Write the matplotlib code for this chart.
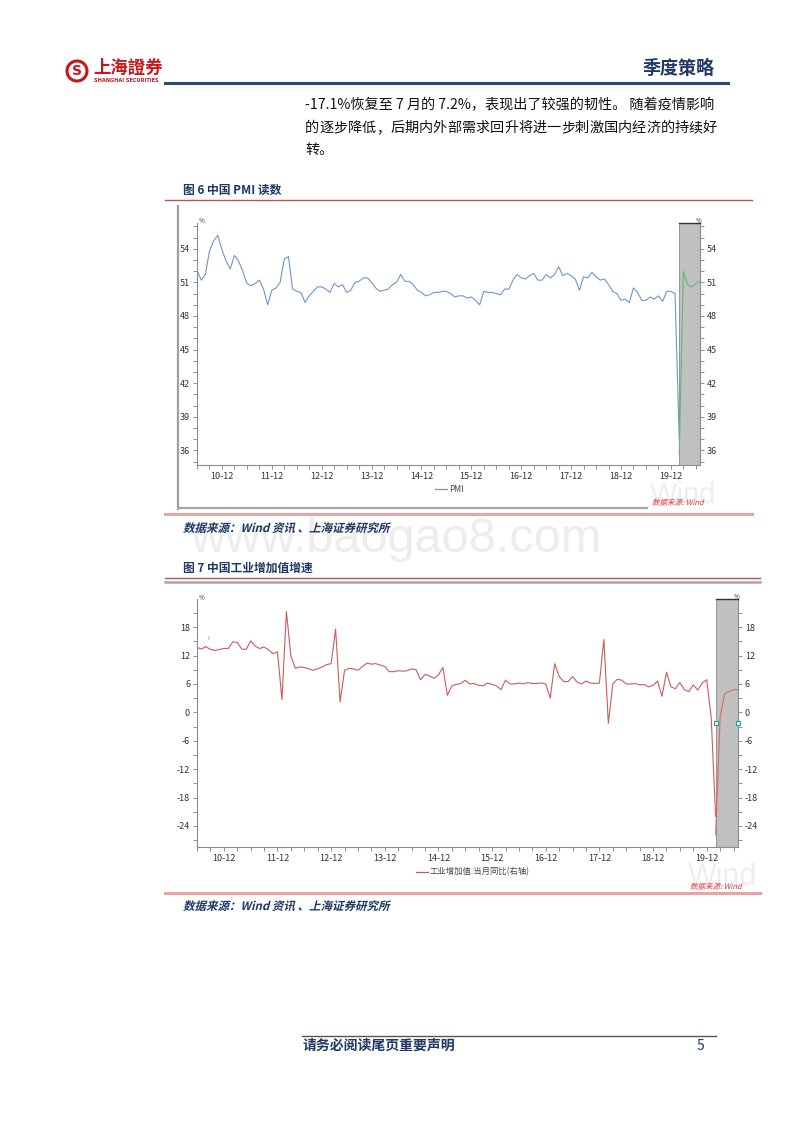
import numpy as np
import matplotlib
matplotlib.use('Agg')
import matplotlib.pyplot as plt
from matplotlib.lines import Line2D
from matplotlib.patches import Circle, PathPatch
from matplotlib.textpath import TextPath
from matplotlib.font_manager import FontProperties
from matplotlib.transforms import Affine2D, IdentityTransform

plt.rcParams['font.family'] = ['Noto Sans CJK SC', 'DejaVu Sans']
plt.rcParams['axes.unicode_minus'] = False

W, H = 800, 1132
NAVY = '#1F3864'

# 月份序号: 0 = 2010-06 ... 121 = 2020-07
tick_labels = ['10-12', '11-12', '12-12', '13-12', '14-12',
               '15-12', '16-12', '17-12', '18-12', '19-12']
tick_pos = [6 + 12 * k for k in range(10)]

# 图6 PMI (2010-06 ~ 2020-02)
pmi = [52.1, 51.2, 51.7, 53.8, 54.7, 55.2, 53.9,
       52.9, 52.2, 53.4, 52.9, 52.0, 50.9, 50.7, 50.9, 51.2, 50.4, 49.0, 50.3,
       50.5, 51.0, 53.1, 53.3, 50.4, 50.2, 50.1, 49.2, 49.8, 50.2, 50.6, 50.6,
       50.4, 50.1, 50.9, 50.6, 50.8, 50.1, 50.3, 51.0, 51.1, 51.4, 51.4, 51.0,
       50.5, 50.2, 50.3, 50.4, 50.8, 51.0, 51.7, 51.1, 51.1, 50.8, 50.3, 50.1,
       49.8, 49.9, 50.1, 50.1, 50.2, 50.2, 50.0, 49.7, 49.8, 49.8, 49.6, 49.7,
       49.4, 49.0, 50.2, 50.1, 50.1, 50.0, 49.9, 50.4, 50.4, 51.2, 51.7, 51.4,
       51.3, 51.6, 51.8, 51.2, 51.2, 51.7, 51.4, 51.7, 52.4, 51.6, 51.8, 51.6,
       51.3, 50.3, 51.5, 51.4, 51.9, 51.5, 51.2, 51.3, 50.8, 50.2, 50.0, 49.4,
       49.5, 49.2, 50.5, 50.1, 49.4, 49.4, 49.7, 49.5, 49.8, 49.3, 50.2, 50.2,
       50.0, 37.0]
# 阴影区 2020-02 ~ 2020-07
pmi_band = [35.7, 52.0, 50.8, 50.6, 50.9, 51.1]

# 图7 工业增加值:当月同比 (2010-06 ~ 2020-02)
iva = [13.7, 13.4, 13.9, 13.3, 13.1, 13.3, 13.5,
       13.5, 14.9, 14.8, 13.4, 13.3, 15.1, 14.0, 13.5, 13.8, 13.2, 12.4, 12.8,
       2.7, 21.3, 11.9, 9.3, 9.6, 9.5, 9.2, 8.9, 9.2, 9.6, 10.1, 10.3,
       17.6, 2.2, 8.9, 9.3, 9.2, 8.9, 9.7, 10.4, 10.2, 10.3, 10.0, 9.7,
       8.6, 8.6, 8.8, 8.7, 8.8, 9.2, 9.0, 6.9, 8.0, 7.7, 7.2, 7.9,
       9.5, 3.6, 5.6, 5.9, 6.1, 6.8, 6.0, 6.1, 5.7, 5.6, 6.2, 5.9,
       5.6, 4.8, 6.8, 6.0, 6.0, 6.2, 6.0, 6.3, 6.1, 6.1, 6.2, 6.0,
       3.0, 10.3, 7.6, 6.5, 6.5, 7.6, 6.4, 6.0, 6.6, 6.2, 6.1, 6.2,
       15.4, -2.3, 6.0, 7.0, 6.8, 6.0, 6.0, 6.1, 5.8, 5.9, 5.4, 5.7,
       6.6, 3.4, 8.5, 5.4, 5.0, 6.3, 4.8, 4.4, 5.8, 4.7, 6.2, 6.9,
       -1.0, -22.0]
iva_band = [-25.9, -1.1, 3.9, 4.4, 4.8, 4.8]
marker_vals = [-2.2, -2.2]

x_main = np.arange(len(pmi))
x_band = np.arange(116, 122)


def fx(x):
    return x / W


def fy(y):
    return 1 - y / H


def hline(x0, x1, y, color, lw):
    fig.add_artist(Line2D([fx(x0), fx(x1)], [fy(y), fy(y)], color=color, lw=lw))


def vline(x, y0, y1, color, lw):
    fig.add_artist(Line2D([fx(x), fx(x)], [fy(y0), fy(y1)], color=color, lw=lw))


def slanted(x, y, s, size, color, weight='bold'):
    fp = FontProperties(family='Noto Sans CJK SC', weight=weight)
    tp = TextPath((0, 0), s, size=size, prop=fp)
    tr = Affine2D().skew_deg(14, 0).translate(x, H - y)
    fig.add_artist(PathPatch(tr.transform_path(tp), color=color, lw=0,
                             transform=IdentityTransform()))


def style(ax, ylim, major, minor):
    ax.set_xlim(0, 121)
    ax.set_ylim(*ylim)
    ax.set_yticks(major)
    ax.set_yticks(minor, minor=True)
    ax.set_xticks(tick_pos)
    ax.set_xticklabels(tick_labels)
    ax.set_xticks(np.arange(0, 122, 3), minor=True)
    ax.tick_params(which='both', direction='out', length=3, width=0.6,
                   color='#7f7f7f', labelsize=6.5, labelcolor='#333333',
                   right=True, labelright=True, pad=2)
    ax.spines['top'].set_visible(False)
    for s in ['left', 'right', 'bottom']:
        ax.spines[s].set_color('#8c8c8c')
        ax.spines[s].set_linewidth(0.8)
    ax.axvspan(116, 121, facecolor='#C0C0C0', edgecolor='#8a8a8a', lw=0.6, zorder=1)
    ax.plot([116, 121], [ylim[1], ylim[1]], color='#333333', lw=1.0, zorder=3, clip_on=False)


fig = plt.figure(figsize=(W / 100, H / 100), dpi=100)

# 水印
fig.text(fx(190), fy(552), 'www.baogao8.com', fontsize=35, color='#ededed',
         va='baseline', family='Liberation Sans', zorder=-5)

# ---------- 页眉 ----------
fig.add_artist(Circle((77, H - 71), 10, transform=IdentityTransform(),
                      fill=False, ec='#C8161D', lw=2.2))
fig.text(fx(77), fy(71), 'S', color='#C8161D', fontsize=10, fontweight='bold',
         ha='center', va='center', family='DejaVu Sans')
fig.text(fx(93), fy(68), '上海證券', color='#C8161D', fontsize=12.5,
         fontweight='bold', va='center')
fig.text(fx(94), fy(81), 'SHANGHAI SECURITIES', color='#C8161D', fontsize=3.6,
         fontweight='bold', va='center', family='DejaVu Sans')
fig.text(fx(714), fy(68), '季度策略', color=NAVY, fontsize=13, fontweight='bold',
         ha='right', va='center')
hline(165, 728, 83, '#274b78', 2.2)

# ---------- 正文 ----------
fig.text(fx(305), fy(105), '-17.1%恢复至 7 月的 7.2%，表现出了较强的韧性。 随着疫情影响',
         fontsize=10.2, color='#111111', va='center')
line2 = '的逐步降低，后期内外部需求回升将进一步刺激国内经济的持续好'
for i, ch in enumerate(line2):
    fig.text(fx(305 + i * (412 - 14) / (len(line2) - 1)), fy(128), ch,
             fontsize=10.2, color='#111111', va='center')
fig.text(fx(305), fy(150), '转。', fontsize=10.2, color='#111111', va='center')

# ---------- 图6 ----------
fig.text(fx(183), fy(190), '图 6 中国 PMI 读数', color=NAVY, fontsize=8.5,
         fontweight='bold', va='center')
hline(165, 752, 200, '#C0504D', 1.0)
vline(178, 206, 509, '#a0a0a0', 1.6)
hline(178, 647, 508, '#a8a8a8', 1.6)

ax1 = fig.add_axes([fx(197), fy(465), (700 - 197) / W, (465 - 223) / H])
style(ax1, (34.7, 56.3), np.arange(36, 55, 3), np.arange(35, 57, 1))
ax1.plot(x_main, pmi, color='#6F97C9', lw=0.8, zorder=2)
ax1.plot(x_band, pmi_band, color='#62B873', lw=0.8, zorder=4)
fig.text(fx(199), fy(221), '%', fontsize=4.5, color='#333333', va='center')
fig.text(fx(696), fy(221), '%', fontsize=4.5, color='#333333', va='center')

fig.add_artist(Line2D([fx(435), fx(447)], [fy(489), fy(489)], color='#6F97C9', lw=0.9))
fig.text(fx(449), fy(489), 'PMI', fontsize=6, color='#444444', va='center')
fig.text(fx(650), fy(495), 'Wind', fontsize=21, color='#eeeeee', va='center',
         family='Liberation Sans', zorder=-5)
slanted(652, 505, '数据来源: Wind', 7.5, '#E03030', weight='normal')

hline(165, 752, 514, '#EBA4A4', 2.2)
slanted(183, 532, '数据来源：Wind 资讯 、上海证券研究所', 11.5, NAVY)

# ---------- 图7 ----------
fig.text(fx(183), fy(568), '图 7 中国工业增加值增速', color=NAVY, fontsize=8.5,
         fontweight='bold', va='center')
hline(165, 760, 578, '#C0504D', 1.0)
hline(165, 760, 582, '#a8a8a8', 1.8)

ax2 = fig.add_axes([fx(197), fy(846.7), (738 - 197) / W, (846.7 - 599.3) / H])
style(ax2, (-28.4, 23.9), np.arange(-24, 19, 6), np.arange(-27, 22, 3))
ax2.plot(x_main, iva, color='#D05A5A', lw=0.8, zorder=2)
ax2.plot(x_band, iva_band, color='#D96A6A', lw=0.8, zorder=4)
ax2.plot([116, 121], marker_vals, ls='none', marker='s', ms=3.2, mfc='#e8fbfb',
         mec='#1f9e9e', mew=0.8, zorder=5, clip_on=False)
fig.text(fx(199), fy(598), '%', fontsize=4.5, color='#333333', va='center')
fig.text(fx(734), fy(597), '%', fontsize=4.5, color='#333333', va='center')
fig.text(fx(207), fy(638), 'ı', fontsize=5, color='#999999', va='center')

fig.add_artist(Line2D([fx(416), fx(428)], [fy(872), fy(872)], color='#D05A5A', lw=0.9))
fig.text(fx(430), fy(872), '工业增加值:当月同比(右轴)', fontsize=6, color='#444444',
         va='center')
fig.text(fx(688), fy(877), 'Wind', fontsize=22, color='#eeeeee', va='center',
         family='Liberation Sans', zorder=-5)
slanted(690, 889, '数据来源: Wind', 7.5, '#E03030', weight='normal')

hline(165, 760, 893, '#EBA4A4', 2.2)
slanted(183, 910, '数据来源：Wind 资讯 、上海证券研究所', 11.5, NAVY)

# ---------- 页脚 ----------
hline(302, 716, 1036, '#555555', 1.0)
fig.text(fx(303), fy(1046), '请务必阅读尾页重要声明', color=NAVY, fontsize=10,
         fontweight='bold', va='center')
fig.text(fx(697), fy(1046), '5', color=NAVY, fontsize=10, va='center')

fig.savefig('out.png', dpi=100)
